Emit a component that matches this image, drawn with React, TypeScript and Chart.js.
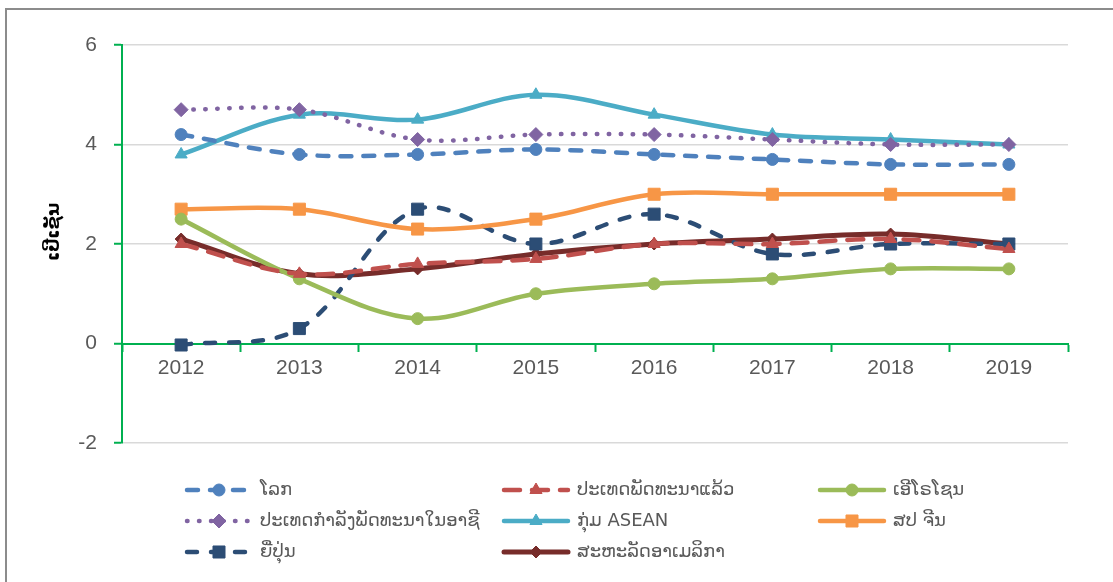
import React, { useEffect, useRef } from 'react';
import { Chart, registerables } from 'chart.js';
Chart.register(...registerables);

const years = ['2012', '2013', '2014', '2015', '2016', '2017', '2018', '2019'];
const seriesNames = [
  'ໂລກ',
  'ປະເທດພັດທະນາແລ້ວ',
  'ເອີໂຣໂຊນ',
  'ປະເທດກຳລັງພັດທະນາໃນອາຊີ',
  'ກຸ່ມ ASEAN',
  'ສປ ຈີນ',
  'ຍີ່ປຸ່ນ',
  'ສະຫະລັດອາເມລິກາ',
];
const world = [4.2, 3.8, 3.8, 3.9, 3.8, 3.7, 3.6, 3.6];
const developed = [2.0, 1.4, 1.6, 1.7, 2.0, 2.0, 2.1, 1.9];
const eurozone = [2.5, 1.3, 0.5, 1.0, 1.2, 1.3, 1.5, 1.5];
const developingAsia = [4.7, 4.7, 4.1, 4.2, 4.2, 4.1, 4.0, 4.0];
const asean = [3.8, 4.6, 4.5, 5.0, 4.6, 4.2, 4.1, 4.0];
const china = [2.7, 2.7, 2.3, 2.5, 3.0, 3.0, 3.0, 3.0];
const japan = [-0.03, 0.3, 2.7, 2.0, 2.6, 1.8, 2.0, 2.0];
const usa = [2.1, 1.4, 1.5, 1.8, 2.0, 2.1, 2.2, 2.0];
const yMin = -2;
const yMax = 6;
const yStep = 2;
const yTitle = 'ເປີເຊັນ';

const GREEN = '#00b050';
const TEXT = '#595959';

type Style = { color: string; dash: number[]; shape: string; r: number; width: number };
const styles: Style[] = [
  { color: '#4f81bd', dash: [11, 12], shape: 'circle', r: 6, width: 4.5 },
  { color: '#c0504d', dash: [16, 12], shape: 'triangle', r: 7, width: 4.5 },
  { color: '#9bbb59', dash: [], shape: 'circle', r: 6, width: 4.5 },
  { color: '#8064a2', dash: [0.5, 11.5], shape: 'rectRot', r: 7, width: 4.5 },
  { color: '#4bacc6', dash: [], shape: 'triangle', r: 7, width: 4.5 },
  { color: '#f79646', dash: [], shape: 'rect', r: 8.5, width: 4.5 },
  { color: '#2c4d75', dash: [10, 14], shape: 'rect', r: 8.5, width: 4.5 },
  { color: '#772c2a', dash: [], shape: 'rectRot', r: 6, width: 5 },
];
const seriesData = [world, developed, eurozone, developingAsia, asean, china, japan, usa];

const LEGEND_COLS = [185, 502, 818];
const LEGEND_ROWS = [490, 521, 552];

function drawMarker(ctx: CanvasRenderingContext2D, shape: string, x: number, y: number, r: number, color: string) {
  ctx.save();
  ctx.fillStyle = color;
  ctx.strokeStyle = color;
  ctx.lineWidth = 1;
  ctx.setLineDash([]);
  ctx.beginPath();
  if (shape === 'circle') {
    ctx.arc(x, y, r, 0, Math.PI * 2);
  } else if (shape === 'triangle') {
    for (let k = 0; k < 3; k++) {
      const a = (k * 2 * Math.PI) / 3;
      const px = x + Math.sin(a) * r;
      const py = y - Math.cos(a) * r;
      if (k === 0) ctx.moveTo(px, py);
      else ctx.lineTo(px, py);
    }
    ctx.closePath();
  } else if (shape === 'rectRot') {
    ctx.moveTo(x - r, y);
    ctx.lineTo(x, y - r);
    ctx.lineTo(x + r, y);
    ctx.lineTo(x, y + r);
    ctx.closePath();
  } else {
    const s = Math.SQRT1_2 * r;
    ctx.rect(x - s, y - s, 2 * s, 2 * s);
  }
  ctx.fill();
  ctx.stroke();
  ctx.restore();
}

const legendPlugin = {
  id: 'gridLegend',
  afterDraw(chart: any) {
    const ctx: CanvasRenderingContext2D = chart.ctx;
    chart.data.datasets.forEach((ds: any, i: number) => {
      const st = styles[i];
      const x0 = LEGEND_COLS[i % 3];
      const y = LEGEND_ROWS[Math.floor(i / 3)];
      ctx.save();
      ctx.strokeStyle = st.color;
      ctx.lineWidth = st.width;
      ctx.lineCap = 'round';
      ctx.setLineDash(st.dash);
      ctx.beginPath();
      ctx.moveTo(x0 + 2, y);
      ctx.lineTo(x0 + 66, y);
      ctx.stroke();
      ctx.restore();
      drawMarker(ctx, st.shape, x0 + 34, y, st.r, st.color);
      ctx.save();
      ctx.fillStyle = TEXT;
      ctx.font = '18px "DejaVu Sans"';
      ctx.textBaseline = 'middle';
      ctx.textAlign = 'left';
      ctx.fillText(ds.label, x0 + 75, y);
      ctx.restore();
    });
    // y-axis title
    const yScale = chart.scales.y;
    ctx.save();
    ctx.translate(54, (yScale.top + yScale.bottom) / 2 - 12);
    ctx.rotate(-Math.PI / 2);
    ctx.fillStyle = '#000';
    ctx.font = 'bold 18px "DejaVu Sans"';
    ctx.textAlign = 'center';
    ctx.textBaseline = 'middle';
    ctx.fillText(yTitle, 0, 0);
    ctx.restore();
  },
};

export default function App() {
  const ref = useRef<HTMLCanvasElement>(null);
  useEffect(() => {
    document.body.style.margin = '0';
    const chart = new Chart(ref.current as HTMLCanvasElement, {
      type: 'line',
      data: {
        labels: years,
        datasets: seriesData.map((d, i) => ({
          label: seriesNames[i],
          data: d,
          borderColor: styles[i].color,
          backgroundColor: styles[i].color,
          borderWidth: styles[i].width,
          borderDash: styles[i].dash,
          borderCapStyle: 'round',
          pointStyle: styles[i].shape,
          pointRadius: styles[i].r,
          pointBackgroundColor: styles[i].color,
          pointBorderColor: styles[i].color,
          pointBorderWidth: 1,
          tension: 0.35,
          fill: false,
        })),
      },
      options: {
        responsive: false,
        animation: false,
        devicePixelRatio: 1,
        layout: { padding: { left: 0, right: 45, top: 45, bottom: 139 } },
        plugins: { legend: { display: false }, tooltip: { enabled: false } },
        scales: {
          x: {
            type: 'category',
            position: { y: 0 } as any,
            offset: true,
            border: { color: GREEN, width: 2 },
            grid: { drawOnChartArea: false, tickColor: GREEN, tickLength: 7, tickWidth: 2, offset: true },
            ticks: { color: TEXT, font: { family: '"Liberation Sans"', size: 21 }, padding: 5, maxRotation: 0 },
          },
          y: {
            min: yMin,
            max: yMax,
            afterFit: (s: any) => {
              s.width = 122;
            },
            border: { color: GREEN, width: 2 },
            grid: {
              color: (c: any) => (c.tick && c.tick.value === 0 ? 'rgba(0,0,0,0)' : '#d9d9d9'),
              lineWidth: 1.5,
              tickColor: GREEN,
              tickLength: 8,
              tickWidth: 2,
            },
            ticks: { stepSize: yStep, color: TEXT, font: { family: '"Liberation Sans"', size: 21 }, padding: 17 },
          },
        },
      } as any,
      plugins: [legendPlugin],
    });
    return () => chart.destroy();
  }, []);
  return (
    <div style={{ position: 'fixed', left: 0, top: 0, width: 1113, height: 582, overflow: 'hidden', background: '#fff' }}>
      <canvas ref={ref} width={1113} height={582} style={{ position: 'absolute', left: 0, top: 0, width: 1113, height: 582 }} />
      <div style={{ position: 'absolute', left: 5, top: 8, width: 1200, height: 700, border: '2px solid #8c8c8c', pointerEvents: 'none' }} />
    </div>
  );
}
